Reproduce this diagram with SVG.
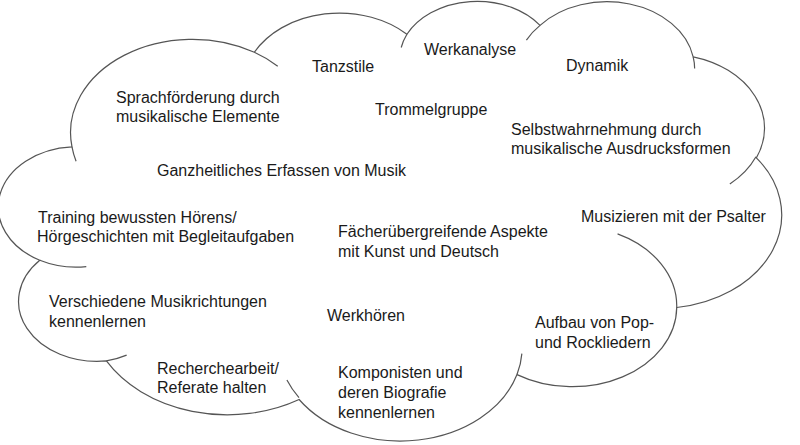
<svg xmlns="http://www.w3.org/2000/svg" width="800" height="445" viewBox="0 0 800 445">
<style>
.cl{fill:none;stroke:#555;stroke-width:1.2}
text{font-family:"Liberation Sans",Arial,sans-serif;font-size:16px;fill:#1a1a1a}
</style>
<rect width="800" height="445" fill="#fff"/>
<g id="cloud" transform="translate(1.6,1) scale(0.018048,0.010148)">
<path class="cl" vector-effect="non-scaling-stroke" d="M3900,14370 A6753,9190 0 0 1 14005,5050 A5333,7267 0 0 1 22458,3280 A4365,5945 0 0 1 29834,2400 A4857,6595 0 0 1 38319,5500 A5333,7273 0 0 1 41820,15458 A6775,9220 0 0 1 37407,30204 A5785,7867 0 0 1 28558,36814 A6752,9215 0 0 1 16484,39267 A7720,10543 0 0 1 5807,35471 A4360,5918 0 0 1 2116,25549 A4345,5945 0 0 1 3900,14370 Z"/>
<path class="cl" vector-effect="non-scaling-stroke" d="M4693,26177 A4345,5945 0 0 1 2116,25549 M6928,34899 A4360,5918 0 0 1 5807,35471 M16478,39090 A6752,9215 0 0 1 15809,37348 M28827,34751 A6752,9215 0 0 1 28558,36814 M34129,22954 A5785,7867 0 0 1 37407,30204 M41798,15354 A5333,7273 0 0 1 40350,18030 M38319,5500 A4857,6595 0 0 1 38400,6640 M29078,3850 A4857,6595 0 0 1 29834,2400 M22141,4580 A4365,5945 0 0 1 22458,3280 M14005,5050 A6753,9190 0 0 1 15301,6420 M4127,15789 A6753,9190 0 0 1 3900,14370"/>
</g>
<g id="labels">
<text x="312" y="72">Tanzstile</text>
<text x="424" y="55">Werkanalyse</text>
<text x="566" y="71">Dynamik</text>
<text x="116" y="103">Sprachförderung durch</text>
<text x="116" y="122">musikalische Elemente</text>
<text x="375" y="115">Trommelgruppe</text>
<text x="511" y="135">Selbstwahrnehmung durch</text>
<text x="511" y="154">musikalische Ausdrucksformen</text>
<text x="157" y="176">Ganzheitliches Erfassen von Musik</text>
<text x="38" y="223">Training bewussten Hörens/</text>
<text x="37" y="242">Hörgeschichten mit Begleitaufgaben</text>
<text x="581" y="222">Musizieren mit der Psalter</text>
<text x="338" y="237">Fächerübergreifende Aspekte</text>
<text x="338" y="257">mit Kunst und Deutsch</text>
<text x="49" y="307">Verschiedene Musikrichtungen</text>
<text x="49" y="327">kennenlernen</text>
<text x="327" y="321">Werkhören</text>
<text x="535" y="328">Aufbau von Pop-</text>
<text x="535" y="348">und Rockliedern</text>
<text x="157" y="374">Recherchearbeit/</text>
<text x="157" y="393">Referate halten</text>
<text x="338" y="378">Komponisten und</text>
<text x="338" y="398">deren Biografie</text>
<text x="338" y="418">kennenlernen</text>
</g>
</svg>
